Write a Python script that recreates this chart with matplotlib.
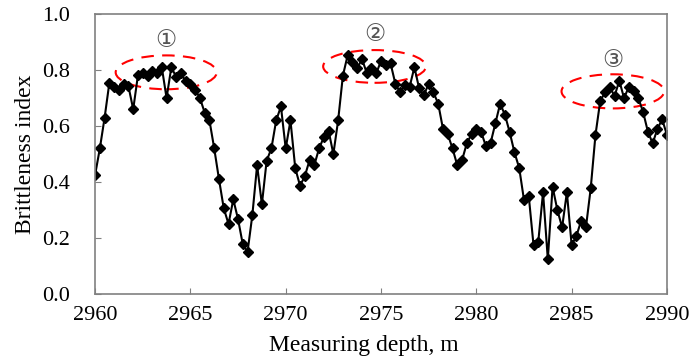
import numpy as np
import matplotlib
matplotlib.use('Agg')
import matplotlib.pyplot as plt
from matplotlib.patches import Ellipse

# measuring depth, 0.25 m step
depth = np.arange(121) * 0.25 + 2960

brittleness = [
    0.425, 0.52, 0.63, 0.755, 0.74, 0.728, 0.752, 0.742, 0.66, 0.782,
    0.79, 0.78, 0.797, 0.79, 0.81, 0.70, 0.81, 0.776, 0.79, 0.76,
    0.752, 0.73, 0.70, 0.648, 0.62, 0.52, 0.41, 0.306, 0.25, 0.338,
    0.267, 0.177, 0.151, 0.282, 0.46, 0.32, 0.476, 0.52, 0.62, 0.67,
    0.52, 0.62, 0.45, 0.387, 0.42, 0.478, 0.46, 0.52, 0.56, 0.583,
    0.50, 0.62, 0.78, 0.853, 0.83, 0.806, 0.84, 0.79, 0.806, 0.788,
    0.833, 0.818, 0.824, 0.752, 0.72, 0.746, 0.74, 0.81, 0.735, 0.71,
    0.752, 0.72, 0.68, 0.59, 0.571, 0.52, 0.46, 0.478, 0.538, 0.571,
    0.59, 0.58, 0.528, 0.54, 0.61, 0.68, 0.64, 0.578, 0.506, 0.45,
    0.336, 0.35, 0.175, 0.187, 0.363, 0.124, 0.383, 0.30, 0.238, 0.363,
    0.175, 0.207, 0.262, 0.238, 0.377, 0.568, 0.69, 0.72, 0.74, 0.707,
    0.762, 0.70, 0.74, 0.725, 0.70, 0.65, 0.58, 0.538, 0.59, 0.624,
    0.568,
]

# highlighted zones: (center depth, center value, width, height, label)
zone_x = [2963.73, 2974.66, 2987.16]
zone_y = [0.792, 0.813, 0.724]
zone_w = [5.3, 5.39, 5.38]
zone_h = [0.121, 0.117, 0.122]
zone_labels = ['\u2460', '\u2461', '\u2462']
label_y = [0.909, 0.929, 0.836]

plt.rcParams['font.family'] = ['Liberation Serif', 'DejaVu Sans']

fig = plt.figure(figsize=(6.89, 3.62), dpi=100)
ax = fig.add_axes([0.138, 0.188, 0.830, 0.773])

ax.plot(depth, brittleness, color='black', marker='D', markersize=5.5, linewidth=1.5)

for cx, cy, w, h, lab, ly in zip(zone_x, zone_y, zone_w, zone_h, zone_labels, label_y):
    ax.add_patch(Ellipse((cx, cy), w, h, fill=False, edgecolor='red',
                         linestyle=(0, (6, 4)), linewidth=1.5))
    ax.text(cx, ly, lab, ha='center', va='center', fontsize=17, color='#555555',
            family=['DejaVu Sans'])

ax.set_xlim(2960, 2990)
ax.set_ylim(0, 1.0)
ax.set_xticks(range(2960, 2991, 5))
ax.set_yticks(np.arange(0, 1.01, 0.2))
ax.set_yticklabels(['0.0', '0.2', '0.4', '0.6', '0.8', '1.0'])
ax.tick_params(direction='in', colors='#808080', labelcolor='black', labelsize=16, length=4)
ax.tick_params(axis='x', pad=9)
ax.tick_params(axis='y', pad=18)
for lbl in ax.get_xticklabels() + ax.get_yticklabels():
    lbl.set_family('Liberation Serif')
for s in ax.spines.values():
    s.set_color('#808080')
    s.set_linewidth(1.2)

ax.set_xlabel('Measuring depth, m', fontsize=17)
ax.set_ylabel('Brittleness index', fontsize=17)
ax.xaxis.set_label_coords(0.47, -0.146)
ax.yaxis.set_label_coords(-0.104, 0.5)

fig.savefig('out.png', dpi=100)
